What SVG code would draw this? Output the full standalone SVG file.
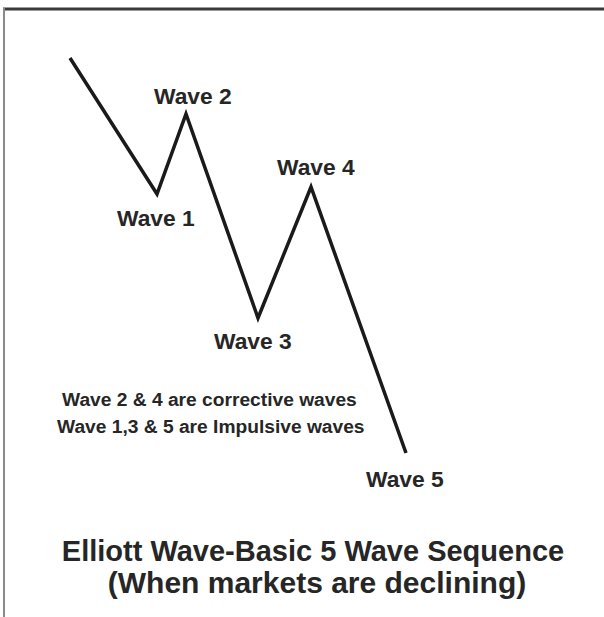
<svg xmlns="http://www.w3.org/2000/svg" width="604" height="617" viewBox="0 0 604 617">
  <style>
    .lbl { font-family: "Liberation Sans", Arial, sans-serif; font-weight: bold; fill: #262626; }
    .wave { font-size: 22.8px; }
    .note { font-size: 19.2px; }
    .title { font-size: 29px; text-anchor: middle; }
    .sub { font-size: 30px; text-anchor: middle; }
  </style>
  <rect width="604" height="617" fill="#ffffff"/>
  <g id="frame">
    <line x1="3" y1="9" x2="604" y2="9" stroke="#3a3a3a" stroke-width="3"/>
    <line x1="4" y1="8" x2="4" y2="617" stroke="#8a8a8a" stroke-width="2"/>
  </g>
  <g id="connectors">
    <polyline points="70,58 157,194 186,114 258,318 311,187 406,453" fill="none" stroke="#1a1a1a" stroke-width="3.5" stroke-linejoin="miter"/>
  </g>
  <g id="wave1"><text class="lbl wave" x="117" y="226">Wave 1</text></g>
  <g id="wave2"><text class="lbl wave" x="154" y="104">Wave 2</text></g>
  <g id="wave3"><text class="lbl wave" x="214" y="349">Wave 3</text></g>
  <g id="wave4"><text class="lbl wave" x="277" y="175">Wave 4</text></g>
  <g id="wave5"><text class="lbl wave" x="366" y="487">Wave 5</text></g>
  <g id="notes">
    <text class="lbl note" x="62" y="406">Wave 2 &amp; 4 are corrective waves</text>
    <text class="lbl note" x="57" y="433">Wave 1,3 &amp; 5 are Impulsive waves</text>
  </g>
  <g id="title">
    <text class="lbl title" x="313" y="561">Elliott Wave-Basic 5 Wave Sequence</text>
    <text class="lbl sub" x="317" y="593">(When markets are declining)</text>
  </g>
</svg>
